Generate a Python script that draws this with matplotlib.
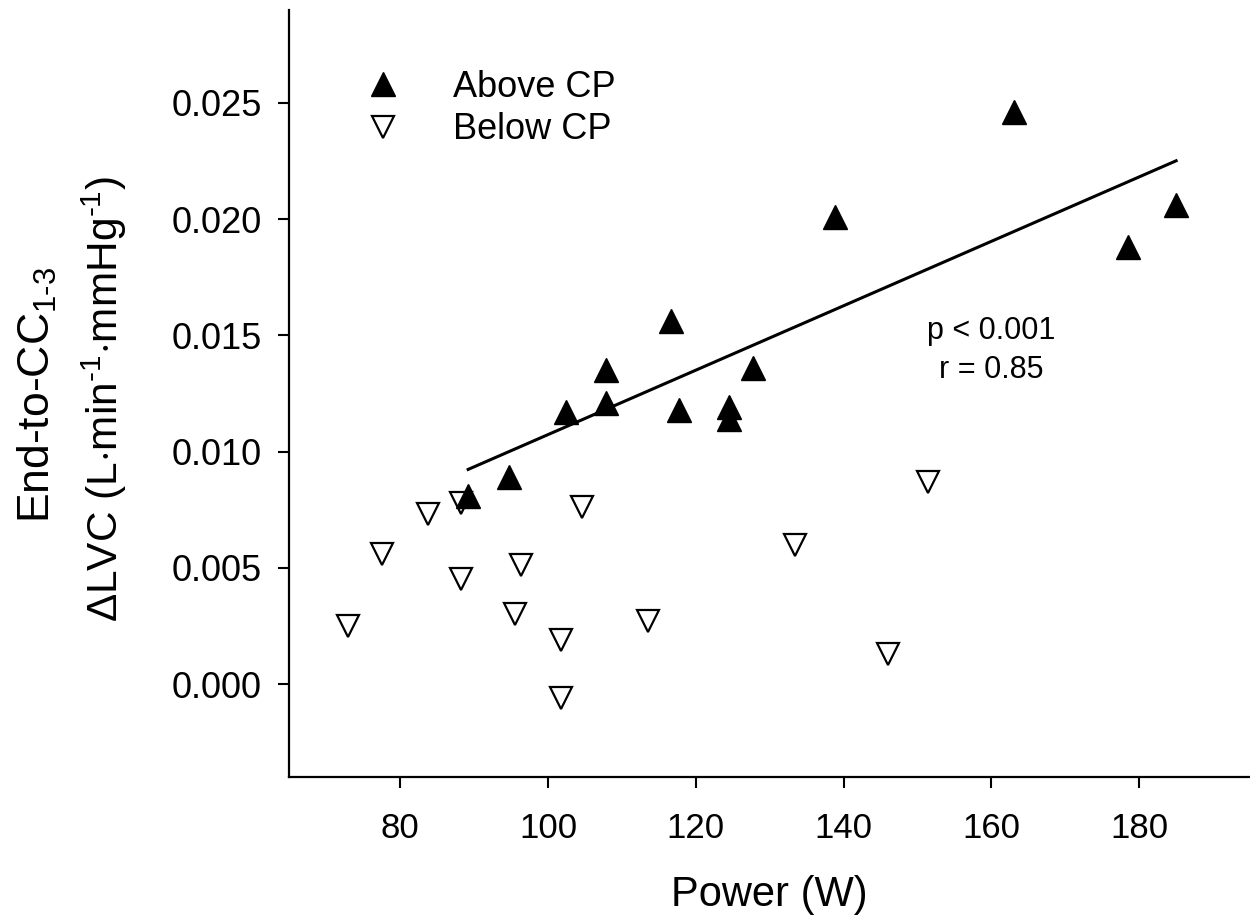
import numpy as np
import matplotlib
matplotlib.use("Agg")
import matplotlib.pyplot as plt
from matplotlib.lines import Line2D
from matplotlib.ticker import FormatStrFormatter

plt.rcParams['font.family'] = ['Liberation Sans', 'DejaVu Sans']
plt.rcParams['mathtext.fontset'] = 'custom'
plt.rcParams['mathtext.rm'] = 'Liberation Sans'
plt.rcParams['mathtext.it'] = 'Liberation Sans:italic'
plt.rcParams['mathtext.bf'] = 'Liberation Sans:bold'

# Power (W) vs end-to-CC1-3 change in LVC
above_power = [89.2, 94.7, 102.4, 107.9, 107.9, 116.7, 117.8, 124.5, 124.5, 127.7, 138.8, 163.0, 178.5, 185.0]
above_dlvc = [0.0081, 0.0089, 0.0117, 0.0121, 0.0135, 0.0156, 0.0118, 0.0119, 0.0114, 0.0136, 0.0201, 0.0246, 0.0188, 0.0206]

below_power = [73.0, 77.5, 83.8, 88.3, 88.3, 96.4, 95.5, 101.8, 101.8, 104.6, 113.6, 133.4, 146.0, 151.4]
below_dlvc = [0.0025, 0.0056, 0.0073, 0.0078, 0.0045, 0.0051, 0.0030, 0.0019, -0.0006, 0.0076, 0.0027, 0.0060, 0.0013, 0.0087]

x_ticks = [80, 100, 120, 140, 160, 180]
y_ticks = [0.000, 0.005, 0.010, 0.015, 0.020, 0.025]
stats_text = "p < 0.001\nr = 0.85"

fig = plt.figure(figsize=(12.5, 9.17), dpi=100)
W, H = 1250, 917
ax = fig.add_axes([289.3 / W, 1 - 777 / H, (W - 289.3) / W, (777 - 10) / H])

ax.plot(below_power, below_dlvc, linestyle='none', marker='v', markersize=16,
        markerfacecolor='white', markeredgecolor='black', markeredgewidth=1.6)
ax.plot(above_power, above_dlvc, linestyle='none', marker='^', markersize=17,
        markerfacecolor='black', markeredgecolor='black')

# linear fit through the above-CP points only
slope, intercept = np.polyfit(above_power, above_dlvc, 1)
xf = np.array([min(above_power), max(above_power)])
ax.plot(xf, slope * xf + intercept, color='black', linewidth=2.2)

ax.text(160.0, 0.01434, stats_text, ha='center', va='center', fontsize=22, linespacing=1.4)

ax.set_xlim(65, 195)
ax.set_ylim(-0.004, 0.029)
ax.set_xticks(x_ticks)
ax.set_yticks(y_ticks)
ax.yaxis.set_major_formatter(FormatStrFormatter('%.3f'))

for side in ['top', 'right']:
    ax.spines[side].set_visible(False)
for side in ['left', 'bottom']:
    ax.spines[side].set_linewidth(1.6)
ax.tick_params(direction='out', length=8, width=1.5)
ax.tick_params(axis='x', pad=17, labelsize=25)
ax.tick_params(axis='y', pad=12, labelsize=26)

ax.set_xlabel('Power (W)', fontsize=30, labelpad=22)

fig.text(37 / W, 1 - 395 / H, r'End-to-CC$_{\text{1-3}}$', rotation=90,
         ha='center', va='center', fontsize=32)
fig.text(104 / W, 1 - 399 / H, r'$\Delta$LVC (L$\cdot$min$^{\text{-1}}$$\cdot$mmHg$^{\text{-1}}$)',
         rotation=90, ha='center', va='center', fontsize=30.5)

handles = [
    Line2D([], [], linestyle='none', marker='^', markersize=17,
           markerfacecolor='black', markeredgecolor='black'),
    Line2D([], [], linestyle='none', marker='v', markersize=16,
           markerfacecolor='white', markeredgecolor='black', markeredgewidth=1.6),
]
ax.legend(handles, ['Above CP', 'Below CP'], loc='upper left',
          bbox_to_anchor=(366 / W, 1 - 70 / H), bbox_transform=fig.transFigure,
          frameon=False, fontsize=26, handlelength=0.96, handletextpad=1.45,
          labelspacing=0.2, borderpad=0, borderaxespad=0)

fig.savefig('out.png', dpi=100)
